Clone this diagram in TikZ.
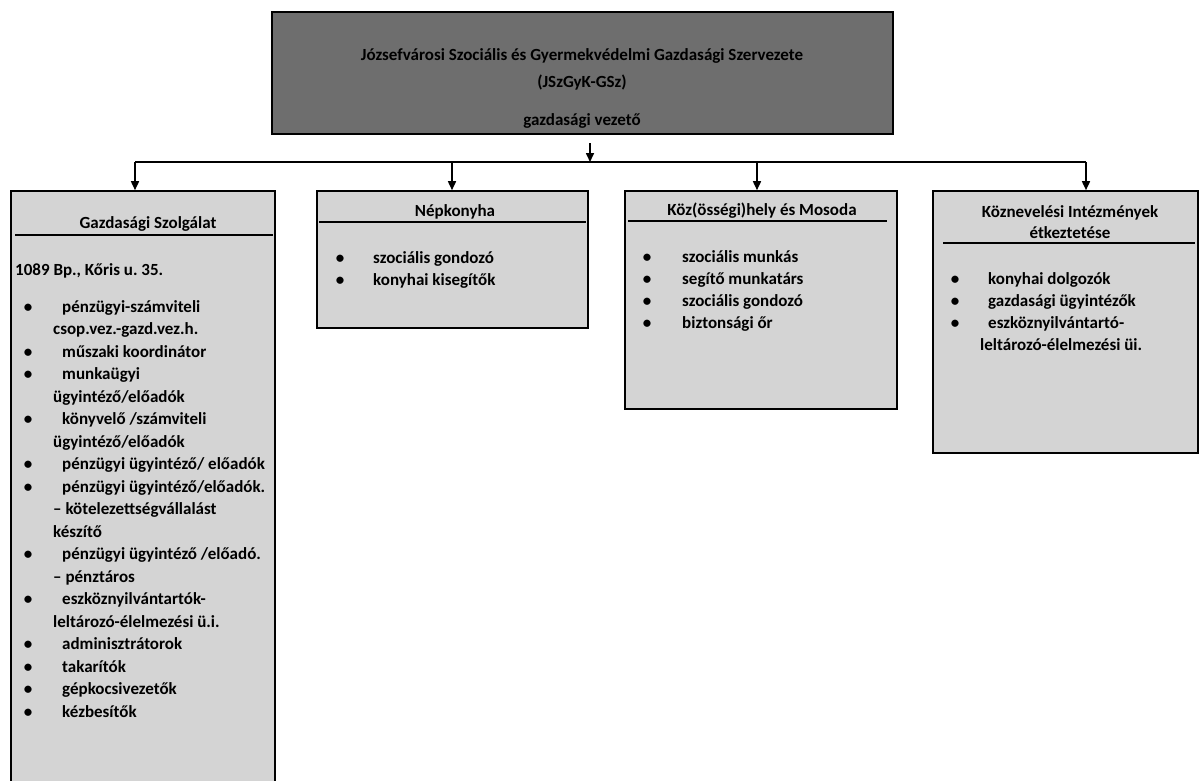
\documentclass[tikz,border=0pt]{standalone}
\usepackage{fontspec}
\setmainfont{Carlito}
\usetikzlibrary{arrows.meta}
\definecolor{topfill}{HTML}{6E6E6E}
\definecolor{unitfill}{HTML}{D4D4D4}
\frenchspacing
\begin{document}
\begin{tikzpicture}[x=1pt,y=-1pt,
  txt/.style={inner sep=0pt, font=\fontsize{17}{22}\selectfont\bfseries, anchor=base west},
  ctxt/.style={txt, anchor=base},
  topbox/.style={draw=black, line width=2.2pt, fill=topfill, inner sep=0pt},
  unitbox/.style={draw=black, line width=1.6pt, fill=unitfill, inner sep=0pt},
  conn/.style={draw=black, line width=1.6pt},
  arr/.style={conn, -{Triangle[width=8pt,length=9pt]}},
  hline/.style={draw=black, line width=1.4pt}]
\useasboundingbox (0,0) rectangle (1200,780);
\fill[white] (0,0) rectangle (1200,780);
\clip (0,0) rectangle (1200,780);

% boxes
\node[topbox, minimum width=621pt, minimum height=122pt] (top) at (582.5,73) {};
\node[unitbox, minimum width=264pt, minimum height=599pt] (b1) at (143,490.5) {};
\node[unitbox, minimum width=271pt, minimum height=137pt] (b2) at (452.5,259.5) {};
\node[unitbox, minimum width=272pt, minimum height=218pt] (b3) at (761,300) {};
\node[unitbox, minimum width=265pt, minimum height=262pt] (b4) at (1065.5,322) {};

% top text
\node[ctxt] (t1) at (582,60) {Józsefvárosi Szociális és Gyermekvédelmi Gazdasági Szervezete};
\node[ctxt] (t2) at (582,87) {(JSzGyK-GSz)};
\node[ctxt] (t3) at (582,125) {gazdasági vezető};

% connectors
\coordinate (t0) at (590,143);
\coordinate (bus) at (590,162);
\coordinate (j1) at (135,162);
\coordinate (j2) at (452,162);
\coordinate (j3) at (757,162);
\coordinate (j4) at (1086,162);
\draw[conn] (j1) -- (j4);
\draw[arr] (t0) -- (bus);
\draw[arr] (j1) -- (j1 |- b1.north);
\draw[arr] (j2) -- (j2 |- b2.north);
\draw[arr] (j3) -- (j3 |- b3.north);
\draw[arr] (j4) -- (j4 |- b4.north);

% header rules
\draw[hline] (15,235) -- (273,235);
\draw[hline] (319,222) -- (586,222);
\draw[hline] (628,221) -- (887,221);
\draw[hline] (943,243) -- (1195,243);

% box 1
\node[ctxt] (h1) at (148,228) {Gazdasági Szolgálat};
\node[txt] (addr) at (15,275) {1089 Bp., Kőris u. 35.};
\foreach \i/\y in {0/312,2/357,3/379.5,5/424.5,7/469.5,8/492,11/559.5,13/604.5,15/649.5,16/672,17/694.5,18/717}
  \node[ctxt] (b1d\i) at (28,\y) {•};
\node[txt] (b1l0) at (62,312) {pénzügyi-számviteli};
\node[txt] (b1l1) at (53,334.5) {csop.vez.-gazd.vez.h.};
\node[txt] (b1l2) at (62,357) {műszaki koordinátor};
\node[txt] (b1l3) at (62,379.5) {munkaügyi};
\node[txt] (b1l4) at (53,402) {ügyintéző/előadók};
\node[txt] (b1l5) at (62,424.5) {könyvelő /számviteli};
\node[txt] (b1l6) at (53,447) {ügyintéző/előadók};
\node[txt] (b1l7) at (62,469.5) {pénzügyi ügyintéző/ előadók};
\node[txt] (b1l8) at (62,492) {pénzügyi ügyintéző/előadók.};
\node[txt] (b1l9) at (53,514.5) {– kötelezettségvállalást};
\node[txt] (b1l10) at (53,537) {készítő};
\node[txt] (b1l11) at (62,559.5) {pénzügyi ügyintéző /előadó.};
\node[txt] (b1l12) at (53,582) {– pénztáros};
\node[txt] (b1l13) at (62,604.5) {eszköznyilvántartók-};
\node[txt] (b1l14) at (53,627) {leltározó-élelmezési ü.i.};
\node[txt] (b1l15) at (62,649.5) {adminisztrátorok};
\node[txt] (b1l16) at (62,672) {takarítók};
\node[txt] (b1l17) at (62,694.5) {gépkocsivezetők};
\node[txt] (b1l18) at (62,717) {kézbesítők};

% box 2
\node[ctxt] (h2) at (455,216) {Népkonyha};
\node[ctxt] (b2d0) at (340,263) {•};
\node[ctxt] (b2d1) at (340,285) {•};
\node[txt] (b2l0) at (373,263) {szociális gondozó};
\node[txt] (b2l1) at (373,285) {konyhai kisegítők};

% box 3
\node[ctxt] (h3) at (762,215) {Köz(össégi)hely és Mosoda};
\foreach \i/\y in {0/262,1/284,2/306,3/328}
  \node[ctxt] (b3d\i) at (647,\y) {•};
\node[txt] (b3l0) at (682,262) {szociális munkás};
\node[txt] (b3l1) at (682,284) {segítő munkatárs};
\node[txt] (b3l2) at (682,306) {szociális gondozó};
\node[txt] (b3l3) at (682,328) {biztonsági őr};

% box 4
\node[ctxt] (h4a) at (1070,217) {Köznevelési Intézmények};
\node[ctxt] (h4b) at (1070,238) {étkeztetése};
\foreach \i/\y in {0/284,1/306,2/328}
  \node[ctxt] (b4d\i) at (955,\y) {•};
\node[txt] (b4l0) at (988,284) {konyhai dolgozók};
\node[txt] (b4l1) at (988,306) {gazdasági ügyintézők};
\node[txt] (b4l2) at (988,328) {eszköznyilvántartó-};
\node[txt] (b4l3) at (980,350) {leltározó-élelmezési üi.};
\end{tikzpicture}
\end{document}
